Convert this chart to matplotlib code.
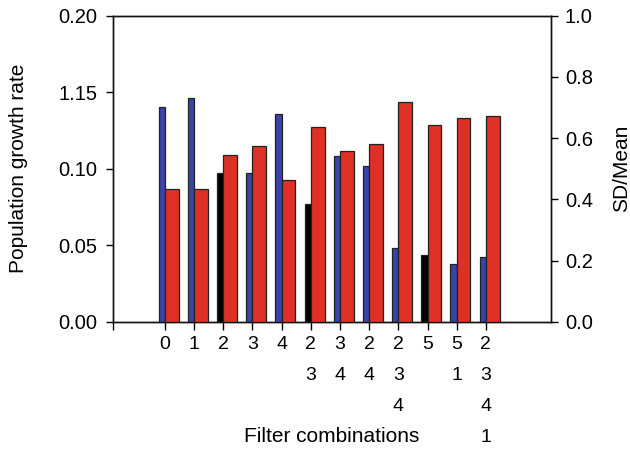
import matplotlib
matplotlib.use("Agg")
import matplotlib.pyplot as plt
import numpy as np

plt.rcParams['font.family'] = ['Liberation Sans', 'DejaVu Sans']

categories = ["0", "1", "2", "3", "4", "2\n3", "3\n4", "2\n4", "2\n3\n4", "5", "5\n1", "2\n3\n4\n1"]
growth_rate = [0.1404, 0.1465, 0.0972, 0.0970, 0.1360, 0.0772, 0.1081, 0.1018, 0.0483, 0.0439, 0.0378, 0.0421]
growth_black = [False, False, True, False, False, True, False, False, False, True, False, False]
sd_mean = [0.435, 0.435, 0.544, 0.573, 0.463, 0.636, 0.557, 0.580, 0.717, 0.644, 0.666, 0.672]
left_ticks = [0.00, 0.05, 0.10, 0.15, 0.20]
left_ticklabels = ["0.00", "0.05", "0.10", "1.15", "0.20"]
right_ticks = [0.0, 0.2, 0.4, 0.6, 0.8, 1.0]
right_ticklabels = ["0.0", "0.2", "0.4", "0.6", "0.8", "1.0"]

BLUE = "#3a44a6"
RED = "#de3024"
EDGE = "#222222"

fig = plt.figure(figsize=(6.30, 4.49), dpi=100)
ax = fig.add_axes([0.1794, 0.2835, 0.8746 - 0.1794, 0.965 - 0.2835])
ax2 = ax.twinx()

x = np.arange(len(categories))
bcolors = ["#000000" if b else BLUE for b in growth_black]
ax.bar(x, growth_rate, width=-0.215, align='edge', color=bcolors, edgecolor=EDGE, linewidth=0.9, zorder=3)
ax2.bar(x, sd_mean, width=0.47, align='edge', color=RED, edgecolor=EDGE, linewidth=0.9, zorder=3)

ax.set_xlim(-1.78, 13.23)
ax.set_ylim(0, 0.20)
ax2.set_ylim(0, 1.0)

ax.set_yticks(left_ticks)
ax.set_yticklabels(left_ticklabels)
ax2.set_yticks(right_ticks)
ax2.set_yticklabels(right_ticklabels)

ax.set_xticks(list(x) + [-1.78])
ax.set_xticklabels(categories + [""], linespacing=2.08, va='top')

for a in (ax, ax2):
    for s in a.spines.values():
        s.set_linewidth(1.0)
        s.set_color("#111111")
ax.tick_params(axis='y', direction='out', length=5, width=1.0, labelsize=14.5, pad=6)
ax2.tick_params(axis='y', direction='out', length=5, width=1.0, labelsize=14.5, pad=5)
ax.tick_params(axis='x', direction='out', length=6, width=1.0, labelsize=14, pad=4.5)

ax.set_ylabel("Population growth rate", fontsize=15, labelpad=22)
ax2.set_ylabel("SD/Mean", fontsize=15, labelpad=14)

fig.text(331.7 / 630, 1 - 436.7 / 449, "Filter combinations", fontsize=15, ha='center', va='center')

fig.savefig("out.png", dpi=100)
